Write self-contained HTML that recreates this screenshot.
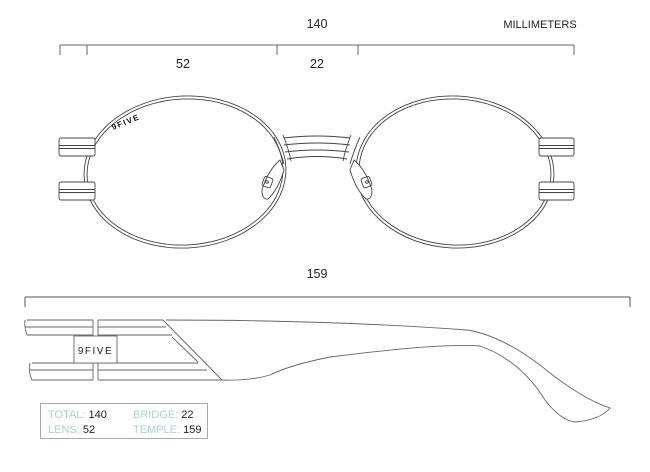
<!DOCTYPE html>
<html><head><meta charset="utf-8"><style>
html,body{margin:0;padding:0;background:#fff;}
svg{display:block;}
text{font-family:"Liberation Sans",sans-serif;}
</style></head><body>
<svg width="650" height="472" viewBox="0 0 650 472" xmlns="http://www.w3.org/2000/svg">
<g fill="none" stroke="#666" stroke-width="1">
<path d="M60 45H574M60 45V55M87 45V55M277 45V55M358 45V55M574 45V55"/>
<path d="M25 297H630M25 297V307M630 297V307" stroke="#555"/>
</g>
<g fill="#222" font-size="12.5" text-anchor="middle">
<text x="317" y="28">140</text>
<text x="183" y="68">52</text>
<text x="317" y="68">22</text>
<text x="540" y="28" font-size="11">MILLIMETERS</text>
<text x="317" y="278">159</text>
</g>
<g fill="none" stroke="#444" stroke-width="0.9">
<ellipse cx="185" cy="172" rx="101" ry="76" transform="rotate(-3 185 172)"/>
<ellipse cx="185" cy="172" rx="98" ry="73" transform="rotate(-3 185 172)"/>
<ellipse cx="455" cy="172" rx="99" ry="76" transform="rotate(3 455 172)"/>
<ellipse cx="455" cy="172" rx="96" ry="73" transform="rotate(3 455 172)"/>
<rect x="59" y="138" width="36" height="18" rx="2" fill="#fff"/>
<path d="M59 145.5H95M59 148.5H95"/>
<rect x="59" y="182" width="36" height="18" rx="2" fill="#fff"/>
<path d="M59 189.5H95M59 192.5H95"/>
<rect x="539" y="138" width="35" height="18" rx="2" fill="#fff"/>
<path d="M539 145.5H574M539 148.5H574"/>
<rect x="539" y="182" width="35" height="18" rx="2" fill="#fff"/>
<path d="M539 189.5H574M539 192.5H574"/>
<path d="M284 138Q317 134 350 138M284 145Q317 141 350 145M285 152Q317 148 349 152M287 159Q317 154 347 159"/>
<path d="M274 137Q280 150 284 164M283 135Q289 150 291 161"/>
<path d="M360 137Q354 150 350 164M351 135Q345 150 343 161"/>
<path d="M280 160Q268 170 262 190Q262 200 268 199Q278 190 284 170Z" fill="#fff"/>
<rect x="263" y="177" width="9" height="10" rx="2" transform="rotate(20 267 182)"/>
<circle cx="267" cy="182" r="1.3"/>
<path d="M354 160Q366 170 372 190Q372 200 366 199Q356 190 350 170Z" fill="#fff"/>
<rect x="362" y="177" width="9" height="10" rx="2" transform="rotate(-20 367 182)"/>
<circle cx="367" cy="182" r="1.3"/>
</g>
<text x="113" y="130" font-size="8" fill="#111" transform="rotate(-22 113 130)" letter-spacing="1.5" font-weight="bold">9FIVE</text>
<g fill="none" stroke="#666" stroke-width="0.9">
<path d="M27 320H93M25 327H93M27 335H93"/>
<path d="M25 320Q24 327 27 335"/>
<path d="M98 320H163M98 327H166M98 335H172"/>
<path d="M93 320V380M98 320V380"/>
<path d="M32 363H93M30 370H93M32 380H93"/>
<path d="M30 363Q28 372 32 380"/>
<path d="M98 363H198M98 370H207M98 380H222"/>
<path d="M163 320L222 380M172 337L198 362"/>
<path d="M166 320Q330 320 467 330Q500 335 540 365Q580 398 610 408Q600 420 575 422Q560 420 545 400Q520 360 480 346Q440 343 330 357Q290 365 270 375Q250 381 222 380"/>
<rect x="74" y="336" width="43" height="27" fill="#fff"/>
</g>
<text x="95.5" y="354" font-size="10" fill="#222" text-anchor="middle" letter-spacing="1.5">9FIVE</text>
<rect x="40.5" y="403.5" width="167" height="35" fill="none" stroke="#aaa"/>
<g font-size="11">
<text x="48" y="418"><tspan fill="#a9d2d2">TOTAL:</tspan><tspan fill="#222"> 140</tspan></text>
<text x="48" y="433"><tspan fill="#a9d2d2">LENS:</tspan><tspan fill="#222"> 52</tspan></text>
<text x="133" y="418"><tspan fill="#a9d2d2">BRIDGE:</tspan><tspan fill="#222"> 22</tspan></text>
<text x="133" y="433"><tspan fill="#a9d2d2">TEMPLE:</tspan><tspan fill="#222"> 159</tspan></text>
</g>
</svg>
</body></html>
